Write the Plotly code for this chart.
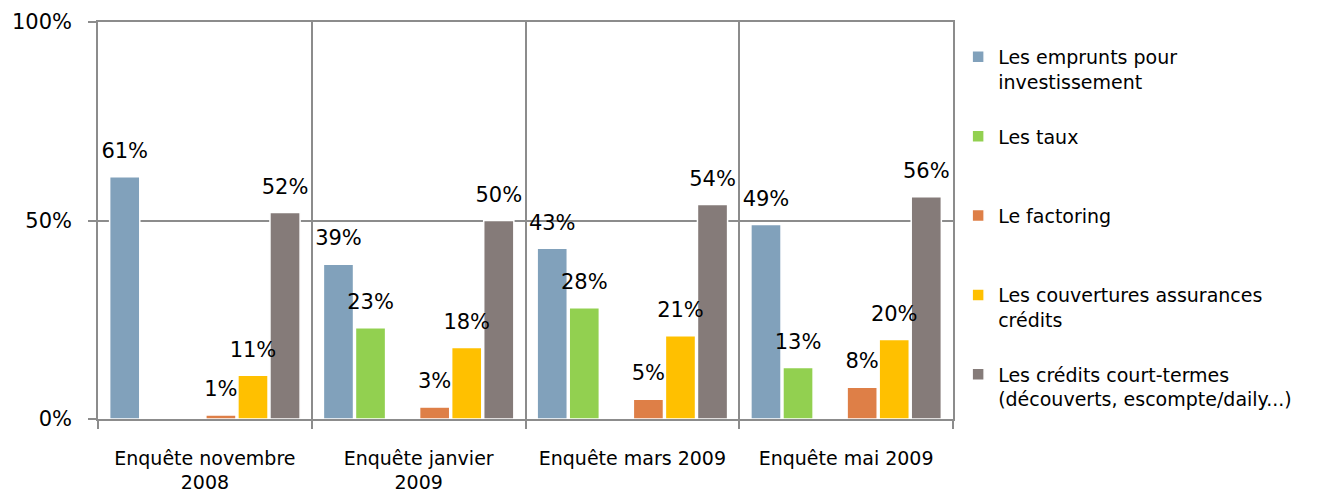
import plotly.graph_objects as go

categories = ["Enquête novembre<br>2008", "Enquête janvier<br>2009", "Enquête mars 2009", "Enquête mai 2009"]
series_names = [
    "Les emprunts pour<br>investissement",
    "Les taux<br> ",
    None,  # empty slot in the original chart
    "Le factoring<br> ",
    "Les couvertures assurances<br>crédits",
    "Les crédits court-termes<br>(découverts, escompte/daily...)",
]
emprunts = [61, 39, 43, 49]
taux = [None, 23, 28, 13]
vide = [None, None, None, None]
factoring = [1, 3, 5, 8]
couvertures = [11, 18, 21, 20]
credits_ct = [52, 50, 54, 56]
series_values = [emprunts, taux, vide, factoring, couvertures, credits_ct]
colors = ["#81A1BB", "#92D050", "#FFFFFF", "#DE7F47", "#FFC000", "#857B79"]

FONT = "DejaVu Sans"
GRID = "#8C8C8C"
fig = go.Figure()
for j, (name, vals, col) in enumerate(zip(series_names, series_values, colors)):
    fig.add_trace(go.Bar(
        x=categories, y=vals, name=name or "", marker_color=col,
        marker_line=dict(color="white", width=1.5),
        offsetgroup=str(j), legendgroup=str(j), showlegend=name is not None,
        hoverinfo="skip",
    ))
for j, (name, vals, col) in enumerate(zip(series_names, series_values, colors)):
    fig.add_trace(go.Scatter(
        x=categories, y=vals, mode="markers+text",
        text=[f"{v}%" if v is not None else "" for v in vals],
        textposition="top center",
        textfont=dict(family=FONT, size=21, color="black"),
        marker=dict(size=20, opacity=0),
        offsetgroup=str(j), showlegend=False, hoverinfo="skip", cliponaxis=False,
    ))

fig.update_layout(
    width=1324, height=489,
    margin=dict(l=90, r=379, t=14, b=78),
    paper_bgcolor="white", plot_bgcolor="white",
    barmode="group", bargap=0.1, bargroupgap=0.06,
    scattermode="group", scattergap=0.1,
    font=dict(family=FONT, size=19, color="black"),
    legend=dict(x=1.006, y=0.96, xanchor="left", yanchor="top",
                valign="top", tracegroupgap=27,
                font=dict(family=FONT, size=19)),
    showlegend=True,
)
fig.update_xaxes(
    tickson="boundaries", showgrid=True, gridcolor=GRID, gridwidth=1.5,
    showline=True, linecolor=GRID, linewidth=1.5, mirror=True,
    ticks="outside", ticklen=8, tickcolor=GRID, tickwidth=1.5,
    ticklabelstandoff=21, tickfont=dict(size=19), automargin=False,
)
fig.update_yaxes(
    range=[0, 100], dtick=50, ticksuffix="%",
    showgrid=True, gridcolor=GRID, gridwidth=1.5,
    showline=True, linecolor=GRID, linewidth=1.5, mirror=True,
    ticks="outside", ticklen=8, tickcolor=GRID, tickwidth=1.5,
    ticklabelstandoff=12, tickfont=dict(size=21), zeroline=False,
    automargin=False,
)
fig.write_html("out.html")
